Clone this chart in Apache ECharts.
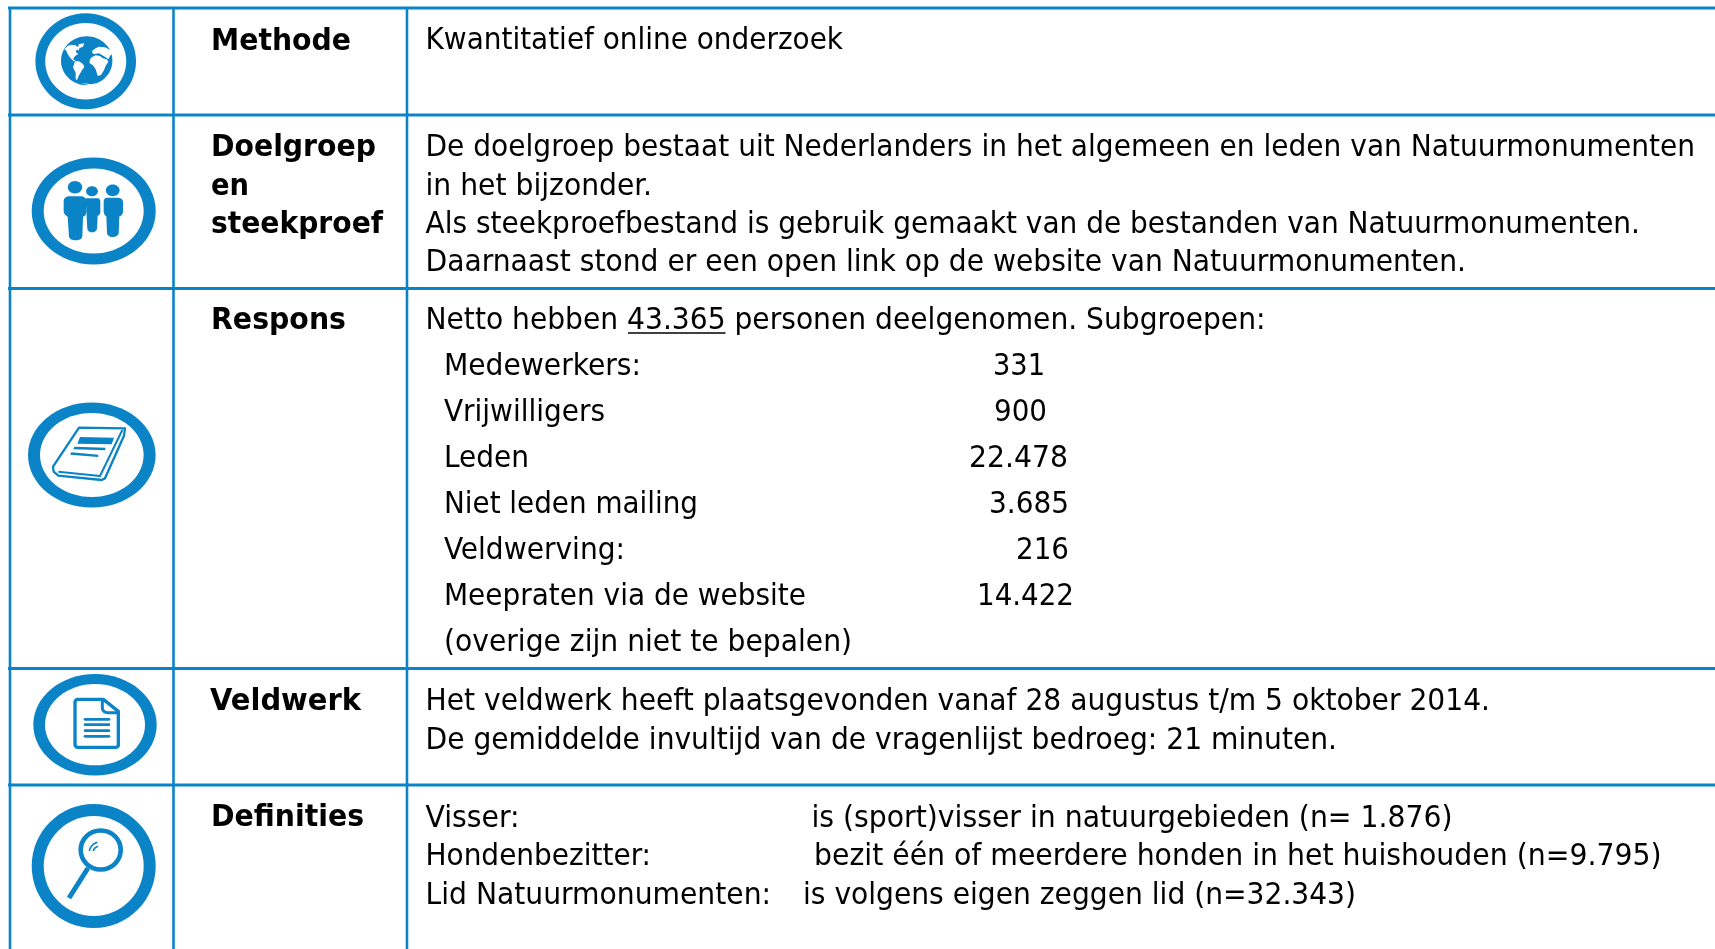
<!DOCTYPE html>
<html>
<head>
<meta charset="utf-8">
<style>html,body{margin:0;padding:0;background:#fff;overflow:hidden}#chart{width:1715px;height:949px}</style>
<script src="https://cdn.jsdelivr.net/npm/echarts@6/dist/echarts.min.js"></script>
</head>
<body>
<div id="chart"></div>
<script>
// ---------- content ----------
var rowTitles = ['Methode', 'Doelgroep', 'en', 'steekproef', 'Respons', 'Veldwerk', 'Definities'];
var methodeLines = ['Kwantitatief online onderzoek'];
var doelgroepLines = [
  'De doelgroep bestaat uit Nederlanders in het algemeen en leden van Natuurmonumenten',
  'in het bijzonder.',
  'Als steekproefbestand is gebruik gemaakt van de bestanden van Natuurmonumenten.',
  'Daarnaast stond er een open link op de website van Natuurmonumenten.'
];
var responsLines = ['Netto hebben 43.365 personen deelgenomen. Subgroepen:'];
var subgroupNames = ['Medewerkers:', 'Vrijwilligers', 'Leden', 'Niet leden mailing', 'Veldwerving:', 'Meepraten via de website', '(overige zijn niet te bepalen)'];
var subgroupValues = ['331', '900', '22.478', '3.685', '216', '14.422'];
var veldwerkLines = [
  'Het veldwerk heeft plaatsgevonden vanaf 28 augustus t/m 5 oktober 2014.',
  'De gemiddelde invultijd van de vragenlijst bedroeg: 21 minuten.'
];
var definitionTerms = ['Visser:', 'Hondenbezitter:', 'Lid Natuurmonumenten:'];
var definitionTexts = [
  'is (sport)visser in natuurgebieden (n= 1.876)',
  'bezit één of meerdere honden in het huishouden (n=9.795)',
  'is volgens eigen zeggen lid (n=32.343)'
];

// ---------- layout (separate from content): [x, centre y, right x] ----------
var BLUE = '#0a84c6';
var REG = '"DejaVu Sans Condensed","DejaVu Sans"';
var BOLD = '"DejaVu Sans"';
var REG_SIZE = 30.5, BOLD_SIZE = 31;
var TEXT_DY = 3;
var hLines = [8, 115, 288.5, 668.5, 785];
var vLines = [10, 173.5, 407];
var titlePos = [[211,38.5,351],[211,144.5,376],[211,184,249],[211,222,383],[211,318,346],[210,699,361],[211,815,364]];
var methodePos = [[425.5,38.5,843]];
var doelgroepPos = [[425.5,145,1695],[425.5,184,652],[425.5,222,1640],[425.5,260,1466]];
var responsPos = [[425.5,318.5,1265.5]];
var subNamePos = [[444,364,641],[444,410,605],[444,456,529],[444,502,698],[444,548,625],[444,594,806],[444,640,852]];
var subValPos = [[993,364,1045],[994,410,1047],[969,456,1068],[989,502,1069],[1016,548,1069],[977,594,1074]];
var veldwerkPos = [[425.5,699,1490],[425.5,738,1337]];
var termPos = [[425.5,816,519.5],[425.5,854,651],[425.5,893,771]];
var defPos = [[811.5,816,1452.5],[814,854,1661.5],[803,893,1356]];

var measureCtx = document.createElement('canvas').getContext('2d');
function fitted(text, pos, font) {
  measureCtx.font = font;
  var w = measureCtx.measureText(text).width;
  return {
    type: 'text', x: pos[0], y: pos[1] + TEXT_DY, scaleX: (pos[2] - pos[0]) / w, silent: true,
    style: { text: text, font: font, fill: '#000', align: 'left', verticalAlign: 'middle', textAlign: 'left', textVerticalAlign: 'middle' }
  };
}
function block(lines, positions, family, size, weight) {
  var font = (weight ? weight + ' ' : '') + size + 'px ' + family;
  return lines.map(function (t, i) { return fitted(t, positions[i], font); });
}
function ellipse(cx, cy, rx, ry, fill) {
  return { type: 'ellipse', silent: true, shape: { cx: cx, cy: cy, rx: rx, ry: ry }, style: { fill: fill } };
}
function ring(cx, cy, ox, oy, ix, iy) {
  return [ellipse(cx, cy, ox, oy, BLUE), ellipse(cx, cy, ix, iy, '#fff')];
}
// outline (M/L/Q/Z) flattened into a polygon or polyline, in the 3x coordinates of an icon crop
function flatten(d) {
  var toks = d.match(/[MLQZ]|-?[\d.]+/g), pts = [], i = 0, closed = false, cur = [0, 0];
  while (i < toks.length) {
    var c = toks[i++];
    if (c === 'Z') { closed = true; }
    else if (c === 'Q') {
      var cx = +toks[i++], cy = +toks[i++], ex = +toks[i++], ey = +toks[i++];
      for (var k = 1; k <= 8; k++) {
        var t = k / 8, u = 1 - t;
        pts.push([u * u * cur[0] + 2 * u * t * cx + t * t * ex, u * u * cur[1] + 2 * u * t * cy + t * t * ey]);
      }
      cur = [ex, ey];
    } else {
      cur = [+toks[i++], +toks[i++]];
      pts.push(cur);
    }
  }
  return { pts: pts, closed: closed };
}
function art(x0, y0, d, fill, stroke, lw, cap) {
  var f = flatten(d);
  return {
    type: f.closed ? 'polygon' : 'polyline', silent: true, x: x0, y: y0, scaleX: 1 / 3, scaleY: 1 / 3,
    shape: { points: f.pts },
    style: { fill: fill || 'none', stroke: stroke || 'none', lineWidth: lw || 0, lineCap: cap || 'butt', lineJoin: 'round' }
  };
}

var els = [];
hLines.forEach(function (y) {
  els.push({ type: 'line', silent: true, shape: { x1: 8, y1: y, x2: 1715, y2: y }, style: { stroke: BLUE, lineWidth: 3 } });
});
vLines.forEach(function (x) {
  els.push({ type: 'line', silent: true, shape: { x1: x, y1: 7, x2: x, y2: 949 }, style: { stroke: BLUE, lineWidth: 2.6 } });
});

// globe
els = els.concat(ring(85.7, 61.3, 50.3, 48, 40.5, 38.3));
els.push(ellipse(86.7, 60.7, 25.7, 24.5, BLUE));
[
  'M28,58 L38,48 L48,44 L62,46 L68,52 L72,42 L88,40 L84,50 L74,54 L70,62 L66,58 L62,66 L70,72 L60,78 L54,88 L62,92 L56,94 L46,84 L38,72 L34,62 Z',
  'M60,94 L72,94 L84,102 L88,110 L80,122 L72,136 L66,150 L62,148 L62,128 L54,112 Z',
  'M110,82 L122,76 L135,78 L142,84 L155,88 L160,95 L152,108 L146,122 L138,135 L128,138 L122,118 L114,106 L104,100 L104,90 Z',
  'M112,62 L122,55 L132,50 L150,52 L165,60 L172,70 L165,78 L160,88 L152,82 L142,76 L132,70 L118,72 L112,70 Z',
  'M78,159 L110,163 L128,158 L110,167 Z'
].forEach(function (d) { els.push(art(55, 30, d, '#fff')); });

// people
els = els.concat(ring(93.7, 211, 62, 53.5, 50, 42.5));
els.push(ellipse(75, 187.3, 7.2, 6.2, BLUE), ellipse(92, 191.3, 5.9, 5, BLUE), ellipse(112.7, 190.3, 6.9, 5.9, BLUE));
[
  'M26,80 Q26,66 40,64 L80,64 Q94,66 94,80 L94,110 Q92,125 84,125 L82,185 Q78,196 62,196 Q46,196 42,185 L38,125 Q28,120 26,110 Z',
  'M92,70 L130,70 Q136,72 136,82 L136,112 Q134,122 128,122 L126,162 Q122,172 111,172 Q100,172 97,162 L95,125 Z',
  'M146,80 Q146,68 158,68 L190,68 Q204,70 204,82 L204,112 Q200,124 193,124 L191,175 Q188,186 172,186 Q160,186 156,175 L154,124 Q147,120 146,110 Z'
].forEach(function (d) { els.push(art(55, 175, d, BLUE)); });

// book
els = els.concat(ring(91.8, 455, 63.8, 52.6, 51.8, 42));
els.push(art(45, 415, 'M102,38 L240,40 L237,62 L180,190 L170,195 L40,182 L26,170 L24,155 Z', 'none', BLUE, 7));
els.push(art(45, 415, 'M40,170 L165,183 L232,45', 'none', BLUE, 6));
els.push(art(45, 415, 'M105,66 L207,68 L200,88 L97,86 Z', BLUE));
els.push(art(45, 415, 'M88,95 L182,98 L180,106 L85,103 Z', BLUE));
els.push(art(45, 415, 'M78,112 L160,119 L160,126 L76,119 Z', BLUE));

// document
els = els.concat(ring(95, 724.7, 61.7, 50.8, 50, 40.6));
els.push(art(65, 690, 'M40,28 L115,28 L160,64 L160,165 Q160,172 150,172 L40,172 Q30,172 30,162 L30,38 Q30,28 40,28 Z', 'none', BLUE, 10));
els.push(art(65, 690, 'M112,30 L112,52 Q112,68 130,68 L160,68', 'none', BLUE, 9));
[88, 104, 122, 139].forEach(function (y) {
  els.push(art(65, 690, 'M60,' + y + ' L132,' + y, 'none', BLUE, 8, 'round'));
});

// magnifier
els = els.concat(ring(93.7, 865.9, 62, 62, 50, 50));
els.push({ type: 'ellipse', silent: true, shape: { cx: 100.7, cy: 850, rx: 20, ry: 19.5 }, style: { fill: 'none', stroke: BLUE, lineWidth: 4.6 } });
els.push(art(60, 825, 'M84,129 L27,219', 'none', BLUE, 15));
els.push(art(60, 825, 'M88,78 Q92,58 112,52', 'none', BLUE, 5));
els.push(art(60, 825, 'M100,78 Q102,68 114,64', 'none', BLUE, 5));

// texts
els = els.concat(block(rowTitles, titlePos, BOLD, BOLD_SIZE, 'bold'));
[[methodeLines, methodePos], [doelgroepLines, doelgroepPos], [responsLines, responsPos],
 [subgroupNames, subNamePos], [subgroupValues, subValPos], [veldwerkLines, veldwerkPos],
 [definitionTerms, termPos], [definitionTexts, defPos]].forEach(function (b) {
  els = els.concat(block(b[0], b[1], REG, REG_SIZE));
});
// underline beneath 43.365
els.push({ type: 'line', silent: true, shape: { x1: 628, y1: 333, x2: 725.5, y2: 333 }, style: { stroke: '#000', lineWidth: 1.6 } });

var chart = echarts.init(document.getElementById('chart'), null, { renderer: 'canvas' });
chart.setOption({ animation: false, backgroundColor: '#fff', graphic: { elements: els } });
</script>
</body>
</html>
